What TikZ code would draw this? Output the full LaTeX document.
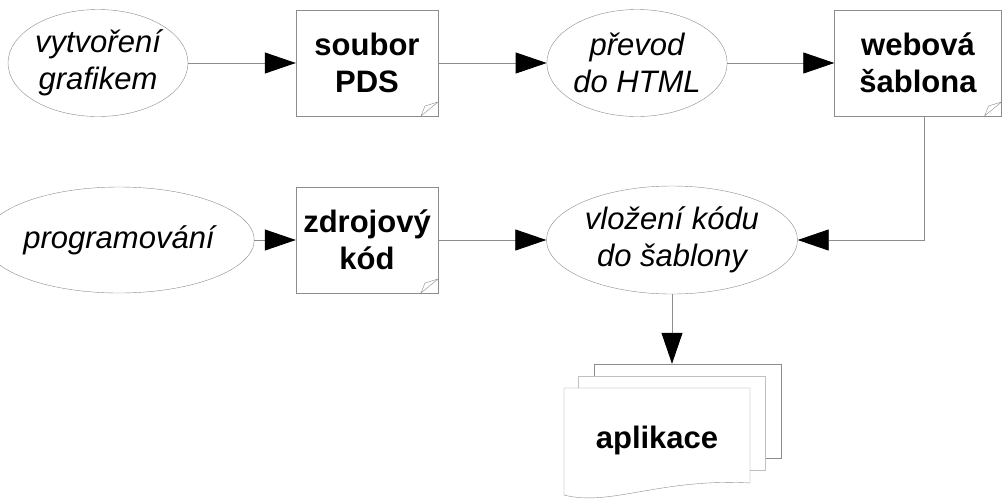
\documentclass[tikz,border=0pt]{standalone}
\usepackage{fontspec}
\setmainfont{Liberation Sans}
\usetikzlibrary{shapes.geometric, arrows.meta, positioning}
\definecolor{linka}{gray}{0.55}
\newcommand{\velke}{\fontsize{31}{37}\selectfont}
\tikzset{
  proces/.style={ellipse, draw=linka, fill=white, inner sep=0pt, align=center, font=\velke\itshape},
  dokument/.style={rectangle, draw=linka, fill=white, minimum width=142pt, minimum height=106pt,
    align=center, font=\velke\bfseries,
    path picture={\draw[linka] ([xshift=-17pt]path picture bounding box.south east)
      -- ([xshift=-13pt, yshift=10pt]path picture bounding box.south east)
      -- ([yshift=14pt]path picture bounding box.south east) -- cycle;}},
  vrstva/.style={rectangle, draw=linka, fill=white, minimum width=187pt, minimum height=94pt},
  spoj/.style={draw=linka, line width=0.8pt, -{Triangle[length=31pt, width=21pt, color=black, fill=black]}}
}

\begin{document}
\begin{tikzpicture}[x=1pt, y=-1pt]
\useasboundingbox (0,0) rectangle (1003,501);

% --- horni rada ---
\node[proces, minimum width=180pt, minimum height=107pt] (grafik) at (98,63) {vytvoření\\grafikem};
\node[dokument] (pds) at (367,63) {soubor\\PDS};
\node[proces, minimum width=180pt, minimum height=107pt] (html) at (637,63) {převod\\do HTML};
\node[dokument, minimum width=167pt] (sablona) at (918,63) {webová\\šablona};

% --- dolni rada ---
\node[proces, minimum width=222pt, minimum height=106pt] (prog) at (119,240) {programování};
\node[dokument] (kod) at (367,240) {zdrojový\\kód};
\node[proces, minimum width=251pt, minimum height=108pt] (vlozeni) at (672,240) {vložení kódu\\do šablony};

% --- aplikace (vice dokumentu) ---
\node[vrstva] (app3) at (687.5,411) {};
\node[vrstva, draw=linka!55] (app2) at (672,423) {};
\draw[linka, fill=white] (564,388) -- (750,388) -- (750,483)
  .. controls (660,478) and (610,507) .. (564,495) -- cycle;
\node[font=\velke\bfseries] (app) at (657,440) {aplikace};

% --- spoje ---
\draw[spoj] (grafik) -- (pds);
\draw[spoj] (pds) -- (html);
\draw[spoj] (html) -- (sablona);
\draw[spoj] (prog) -- (kod);
\draw[spoj] (kod) -- (vlozeni);
\draw[spoj] ([xshift=6pt]sablona.south) |- (vlozeni.east);
\draw[spoj] (vlozeni.south) -- (vlozeni.south |- app3.north);

\end{tikzpicture}
\end{document}
